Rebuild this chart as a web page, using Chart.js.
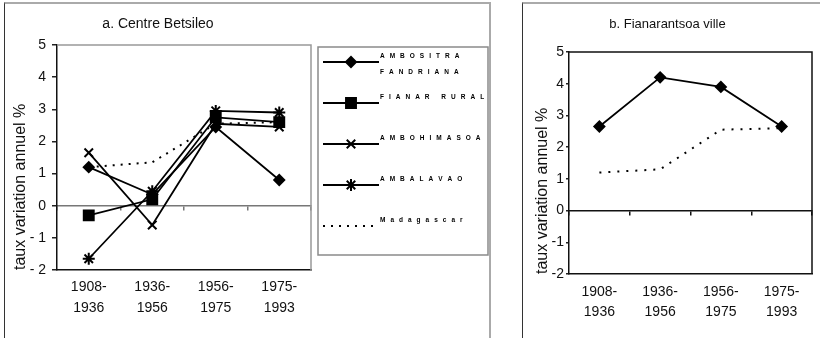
<!DOCTYPE html>
<html>
<head>
<meta charset="utf-8">
<script src="https://cdn.jsdelivr.net/npm/chart.js@4.4.1/dist/chart.umd.min.js"></script>
<style>
    body {
        margin: 0;
        background: #fff;
        width: 820px;
        height: 338px;
        overflow: hidden;
        position: relative;
        font-family: Arial, "Liberation Sans", sans-serif;
    }
    .panel {
        position: absolute;
        top: 2px;
        height: 345px;
        box-sizing: border-box;
        border-top: 2px solid #aaa;
        border-left: 1px solid #333;
    }
    #panelA { left: 4px; width: 487px; border-right: 2px solid #aaa; }
    #panelB { left: 522px; width: 320px; }
    canvas { position: absolute; }
    #chartA { left: 5px; top: 3px; }
    #chartB { left: 523px; top: 3px; }
</style>
</head>
<body>
<div class="panel" id="panelA"></div>
<div class="panel" id="panelB"></div>
<canvas id="chartA" width="484" height="335"></canvas>
<canvas id="chartB" width="297" height="335"></canvas>

<script>
const periods = [['1908-', '1936'], ['1936-', '1956'], ['1956-', '1975'], ['1975-', '1993']];
const yTicks = [-2, -1, 0, 1, 2, 3, 4, 5];

// a. Centre Betsileo
const ambositraFandriana = [1.2, 0.35, 2.45, 0.8];
const fianarRural = [-0.3, 0.2, 2.75, 2.6];
const ambohimasoa = [1.65, -0.6, 2.55, 2.45];
const ambalavao = [-1.65, 0.45, 2.95, 2.9];
const madagascarA = [1.2, 1.35, 2.55, 2.6];
const seriesNames = [['AMBOSITRA', 'FANDRIANA'], ['FIANAR RURAL'], ['AMBOHIMASOA'], ['AMBALAVAO'], ['Madagascar']];

// b. Fianarantsoa ville
const fianarVille = [2.65, 4.2, 3.9, 2.65];
const madagascarB = [1.2, 1.3, 2.55, 2.6];

function serie(label, data, style, radius, dash) {
    return {
        label: label,
        data: data,
        borderColor: '#000',
        borderWidth: dash ? 2 : 1.8,
        borderDash: dash || [],
        pointStyle: style,
        pointRadius: radius,
        pointHoverRadius: radius,
        pointBackgroundColor: '#000',
        pointBorderColor: '#000',
        pointBorderWidth: 2,
        tension: 0
    };
}

// top and right edges of the plot area
const plotFrame = {
    id: 'plotFrame',
    beforeDatasetsDraw(chart, args, opts) {
        const ctx = chart.ctx;
        const a = chart.chartArea;
        ctx.save();
        ctx.strokeStyle = opts.color;
        ctx.lineWidth = opts.width;
        ctx.beginPath();
        ctx.moveTo(a.left, a.top);
        ctx.lineTo(a.right, a.top);
        ctx.lineTo(a.right, a.bottom);
        ctx.stroke();
        ctx.restore();
    }
};

// boxed legend to the right of the plot, spaced letters like the original
const boxLegend = {
    id: 'boxLegend',
    afterDraw(chart) {
        const ctx = chart.ctx;
        const a = chart.chartArea;
        const left = a.right + 7;
        const top = a.top + 2;
        const right = chart.width - 1;
        const bottom = top + 208;
        ctx.save();
        ctx.strokeStyle = '#8a8a8a';
        ctx.lineWidth = 1.5;
        ctx.strokeRect(left, top, right - left, bottom - top);

        chart.data.datasets.forEach((ds, i) => {
            const y = top + 15 + i * 41;
            ctx.strokeStyle = ds.borderColor;
            ctx.lineWidth = ds.borderWidth;
            ctx.setLineDash(ds.borderDash);
            ctx.beginPath();
            ctx.moveTo(left + 5, y);
            ctx.lineTo(left + 61, y);
            ctx.stroke();
            ctx.setLineDash([]);

            if (ds.pointRadius > 0) {
                ctx.fillStyle = ds.pointBackgroundColor;
                ctx.strokeStyle = ds.pointBorderColor;
                ctx.lineWidth = ds.pointBorderWidth;
                Chart.helpers.drawPoint(ctx, {
                    pointStyle: ds.pointStyle,
                    radius: ds.pointRadius,
                    rotation: 0,
                    borderWidth: ds.pointBorderWidth
                }, left + 33, y);
            }

            ctx.fillStyle = '#000';
            ctx.font = 'bold 6.5px Arial';
            ctx.textBaseline = 'middle';
            seriesNames[i].forEach((line, j) => {
                let x = left + 62;
                const ty = y - 6 + j * 16;
                for (const ch of line) {
                    ctx.fillText(ch, x, ty);
                    x += ctx.measureText(ch).width + 5;
                }
            });
        });
        ctx.restore();
    }
};

function makeScales(o) {
    return {
        x: {
            type: 'category',
            offset: true,
            grid: { display: false, drawTicks: false },
            border: { display: true, color: '#111', width: 1.5 },
            ticks: {
                color: '#111',
                font: { family: 'Arial', size: 14, lineHeight: o.labelLine },
                padding: o.labelPad,
                maxRotation: 0,
                autoSkip: false
            },
            afterFit: s => { s.height = o.xHeight; }
        },
        x0: {
            axis: 'x',
            type: 'category',
            position: { y: 0 },
            offset: true,
            grid: { drawOnChartArea: false, offset: true, tickLength: 4, color: o.zeroColor, lineWidth: 1.5 },
            border: { display: true, color: o.zeroColor, width: 1.5 },
            ticks: { display: false }
        },
        y: {
            min: -2,
            max: 5,
            afterBuildTicks: s => { s.ticks = yTicks.map(v => ({ value: v })); },
            ticks: {
                color: '#111',
                font: { family: 'Arial', size: 14 },
                padding: o.tickPad,
                callback: o.tickText
            },
            grid: { drawOnChartArea: false, tickLength: o.tickLen, color: '#222', lineWidth: 1.5 },
            border: { display: true, color: '#111', width: 1.5 },
            title: {
                display: true,
                text: 'taux variation annuel %',
                align: 'start',
                color: '#111',
                font: { family: 'Arial', size: 16 },
                padding: { top: o.titlePad, bottom: 0 }
            },
            afterFit: s => { s.width = o.yWidth; }
        }
    };
}

new Chart(document.getElementById('chartA'), {
    type: 'line',
    data: {
        labels: periods,
        datasets: [
            serie('AMBOSITRA FANDRIANA', ambositraFandriana, 'rectRot', 5),
            serie('FIANAR RURAL', fianarRural, 'rect', 7),
            serie('AMBOHIMASOA', ambohimasoa, 'crossRot', 6),
            serie('AMBALAVAO', ambalavao, 'star', 6),
            serie('Madagascar', madagascarA, false, 0, [2, 6])
        ]
    },
    plugins: [plotFrame, boxLegend],
    options: {
        responsive: false,
        animation: false,
        layout: { padding: { left: 0, right: 178, top: 0, bottom: 0 } },
        plugins: {
            legend: { display: false },
            tooltip: { enabled: false },
            title: {
                display: true,
                text: 'a. Centre Betsileo',
                color: '#111',
                font: { family: 'Arial', size: 14, weight: 'normal' },
                padding: { top: 13, bottom: 12.2 }
            },
            plotFrame: { color: '#999', width: 1.5 }
        },
        scales: makeScales({
            xHeight: 68, labelLine: 1.5, labelPad: 7,
            yWidth: 52, tickLen: 5, tickPad: 6, titlePad: 6,
            zeroColor: '#777',
            tickText: v => (v < 0 ? '- ' + (-v) : String(v))
        })
    }
});

new Chart(document.getElementById('chartB'), {
    type: 'line',
    data: {
        labels: periods,
        datasets: [
            serie('Fianarantsoa ville', fianarVille, 'rectRot', 5),
            serie('Madagascar', madagascarB, false, 0, [2, 7])
        ]
    },
    plugins: [plotFrame],
    options: {
        responsive: false,
        animation: false,
        layout: { padding: { left: 0, right: 8, top: 0, bottom: 0 } },
        plugins: {
            legend: { display: false },
            tooltip: { enabled: false },
            title: {
                display: true,
                text: 'b. Fianarantsoa ville',
                color: '#111',
                font: { family: 'Arial', size: 13, weight: 'normal' },
                padding: { top: 14, bottom: 19.4 }
            },
            plotFrame: { color: '#111', width: 1.5 }
        },
        scales: makeScales({
            xHeight: 64, labelLine: 1.45, labelPad: 8,
            yWidth: 46, tickLen: 3, tickPad: 2, titlePad: 10,
            zeroColor: '#111',
            tickText: v => String(v)
        })
    }
});
</script>
</body>
</html>
